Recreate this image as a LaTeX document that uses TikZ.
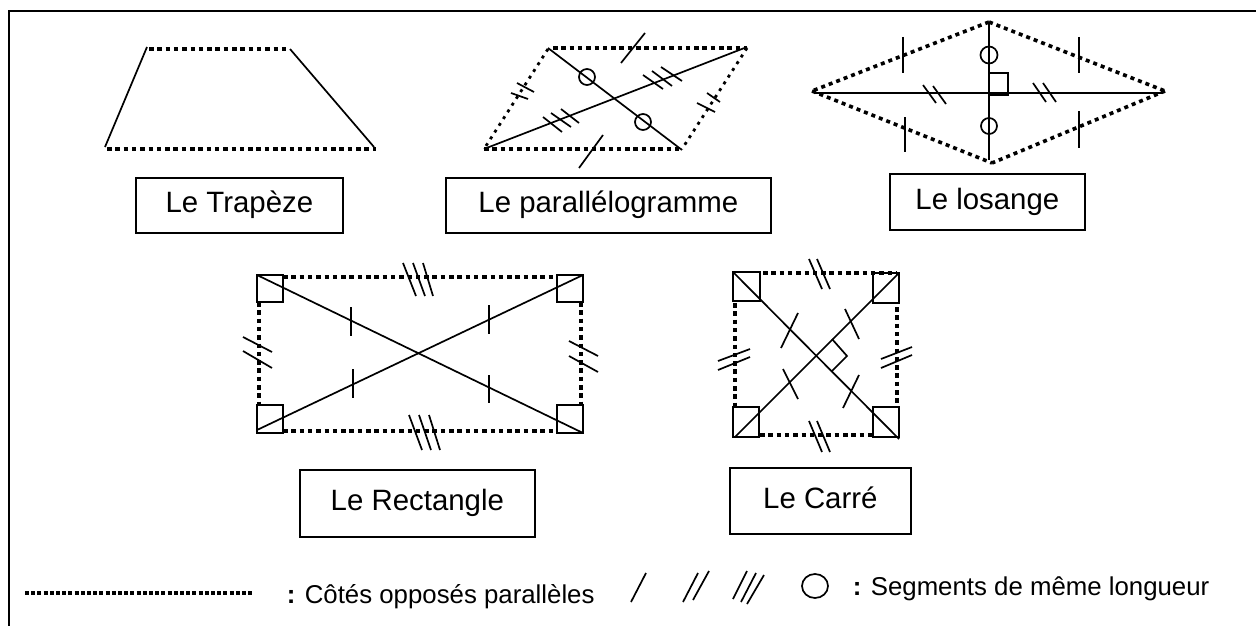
\documentclass[tikz,border=0pt]{standalone}
\usepackage{fontspec}
\setmainfont{Liberation Sans}
\begin{document}
\begin{tikzpicture}[
x=1pt, y=-1pt,
line width=1.7pt,
mybox/.style={
    draw,
    rectangle,
    anchor=north west,
    align=center,
    inner sep=0pt,
    text height=21pt,
    text depth=6pt,
    font=\fontsize{29.4}{34}\selectfont},
dots/.style={line width=4.5pt, dash pattern=on 4.5pt off 3.8pt},
slantdots/.style={line width=3.6pt, dash pattern=on 4pt off 4pt},
thindots/.style={line width=2.8pt, dash pattern=on 3pt off 5pt},
legenddots/.style={line width=3.6pt, dash pattern=on 4pt off 2.2pt},
legendtext/.style={anchor=base west, inner sep=0pt, font=\fontsize{25.8}{30}\selectfont}
]
\useasboundingbox (0,0) rectangle (1256,626);

%frame
\draw[line width=2pt] (9,626) -- (9,11) -- (1256,11);

%trapeze
\draw (147,47) -- (105,147);
\draw (290,49) -- (374,147);
\draw[dots] (149,49) -- (290,49);
\draw[dots] (107,149) -- (376,149);
\node (trapeze) at (135,177) [mybox, minimum width=207pt, minimum height=55pt] {Le Trapèze};

%parallelogramme
\draw[dots] (553,48) -- (747,48);
\draw[dots] (484,149) -- (682,149);
\draw[thindots] (548,49) -- (484,149);
\draw[thindots] (747,48) -- (682,149);
\draw (548,48) -- (682,150);
\draw (747,47) -- (484,149);
\draw (587,77) circle (8);
\draw (643,122) circle (8);
\draw (645,33) -- (621,63);
\draw (603,135) -- (579,168);
\draw (517,83) -- (534,92);
\draw (511,93) -- (528,99);
\draw (707,93) -- (720,102);
\draw (697,103) -- (715,112);
\draw (661,67) -- (682,81);
\draw (652,71) -- (672,86);
\draw (643,75) -- (663,89);
\draw (561,109) -- (579,123);
\draw (551,113) -- (571,127);
\draw (543,117) -- (562,132);
\node (parallelogramme) at (445,177) [mybox, minimum width=325pt, minimum height=55pt] {Le parallélogramme};

%losange
\draw[slantdots] (989,22) -- (812,91);
\draw[slantdots] (989,22) -- (1165,91);
\draw[slantdots] (812,91) -- (992,163);
\draw[slantdots] (1165,91) -- (992,163);
\draw (815,93) -- (1163,93);
\draw (989,22) -- (989,160);
\draw (989,73) rectangle (1008,95);
\draw (989,55) circle (8.5);
\draw (989,126) circle (8);
\draw (903,37) -- (903,73);
\draw (1079,37) -- (1079,73);
\draw (905,117) -- (905,152);
\draw (1079,111) -- (1079,148);
\draw (923,85) -- (936,103);
\draw (933,86) -- (946,104);
\draw (1033,83) -- (1046,102);
\draw (1043,83) -- (1056,102);
\node (losange) at (889,173) [mybox, minimum width=195pt, minimum height=56pt] {Le losange};

%rectangle
\draw[dots] (283,277) -- (557,277);
\draw[dots] (283,431) -- (557,431);
\draw[dots] (259,302) -- (259,405);
\draw[dots] (581,302) -- (581,405);
\draw (257,275) rectangle (283,302);
\draw (557,275) rectangle (583,302);
\draw (257,405) rectangle (283,433);
\draw (557,405) rectangle (583,433);
\draw (257,275) -- (583,433);
\draw (583,275) -- (257,430);
\draw (351,307) -- (351,336);
\draw (489,305) -- (489,334);
\draw (353,369) -- (353,398);
\draw (489,375) -- (489,403);
\draw (403,263) -- (416,296);
\draw (413,263) -- (425,296);
\draw (423,263) -- (433,296);
\draw (409,415) -- (422,450);
\draw (419,415) -- (431,450);
\draw (429,415) -- (440,450);
\draw (243,337) -- (272,352);
\draw (243,351) -- (272,368);
\draw (569,341) -- (598,356);
\draw (569,356) -- (598,372);
\node (rectangle) at (299,469) [mybox, minimum width=235pt, minimum height=67pt] {Le Rectangle};

%carre
\draw[dots] (763,273) -- (897,273);
\draw[dots] (760,435) -- (873,435);
\draw[dots] (735,303) -- (735,407);
\draw[dots] (897,307) -- (897,407);
\draw (733,272) rectangle (760,301);
\draw (873,273) rectangle (899,303);
\draw (733,407) rectangle (759,437);
\draw (873,407) rectangle (899,437);
\draw (733,272) -- (899,439);
\draw (899,273) -- (735,437);
\draw (798,313) -- (781,348);
\draw (845,309) -- (859,339);
\draw (783,369) -- (798,399);
\draw (859,375) -- (843,408);
\draw (832,339) -- (847,356) -- (832,371);
\draw (809,259) -- (822,289);
\draw (817,259) -- (830,289);
\draw (809,421) -- (822,452);
\draw (817,421) -- (830,452);
\draw (718,361) -- (750,349);
\draw (718,370) -- (750,357);
\draw (881,359) -- (912,347);
\draw (881,368) -- (912,355);
\node (carre) at (729,467) [mybox, minimum width=181pt, minimum height=66pt] {Le Carré};

%legende
\draw[legenddots] (25,593) -- (254,593);
\node (colonA) at (286,603) [legendtext] {\textbf{:}};
\node (paralleles) at (304,603) [legendtext] {Côtés opposés parallèles};
\draw (631,602) -- (646,573);
\draw (683,602) -- (698,573);
\draw (693,600) -- (709,571);
\draw (733,599) -- (747,571);
\draw (741,602) -- (756,573);
\draw (747,604) -- (764,575);
\draw (815,586) circle [x radius=13, y radius=12];
\node (colonB) at (852,595.5) [legendtext] {\textbf{:}};
\node (segments) at (870,595.5) [legendtext] {Segments de même longueur};
\end{tikzpicture}
\end{document}
